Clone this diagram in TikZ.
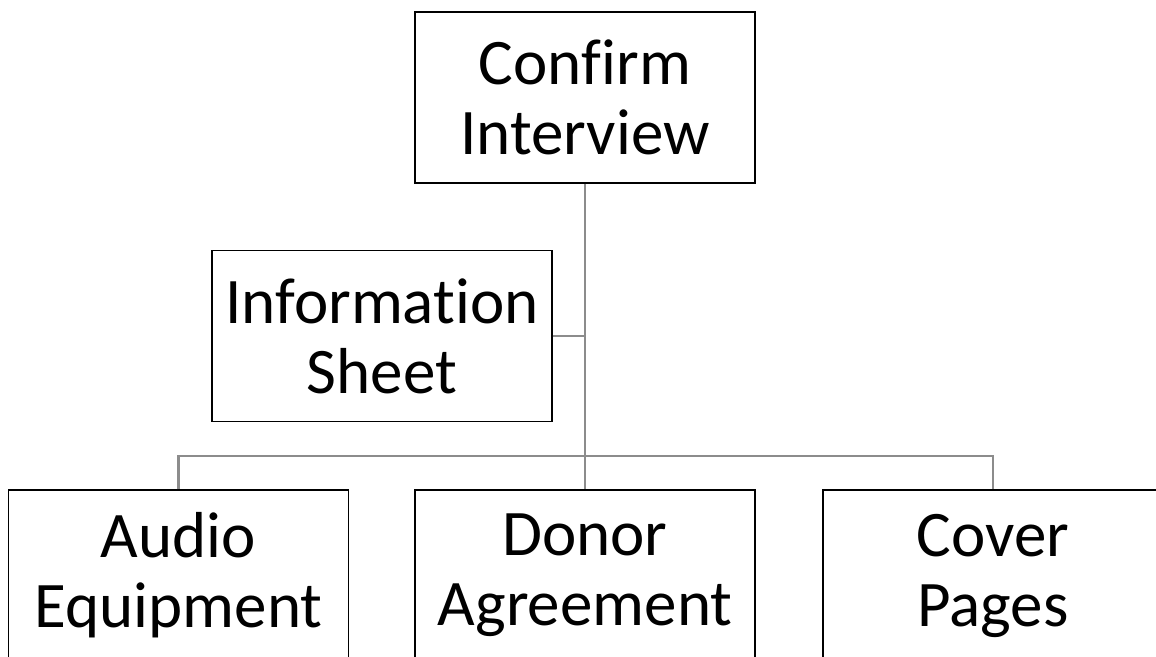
\documentclass[tikz,border=0pt]{standalone}
\usepackage{fontspec}
\setmainfont[Ligatures={NoCommon,NoRequired,NoContextual,NoRare}]{Carlito}
\definecolor{conngray}{RGB}{140,140,140}
\begin{document}
\begin{tikzpicture}[x=1pt,y=-1pt,
  box/.style={draw=black,line width=1.5pt,fill=white,minimum width=340pt,minimum height=171pt,
    inner sep=0pt,align=center,font=\fontsize{65}{70}\selectfont},
  conn/.style={draw=conngray,line width=2.5pt}]
\useasboundingbox (0,0) rectangle (1156,656);
\begin{scope}
\clip (0,0) rectangle (1156,656);
\node[box] (conf) at (585,97.5) {Confirm\\Interview};
\node[box] (info) at (382,336) {Information\\Sheet};
\node[box] (audio) at (178.5,575.5) {Audio\\Equipment};
\node[box] (donor) at (585,575.5) {Donor\\Agreement};
\node[box] (cover) at (993,575.5) {Cover\\Pages};
\coordinate (j) at (585,456);
\draw[conn] (conf.south) -- (j);
\draw[conn] (info.east) -- (info.east -| conf.south);
\draw[conn] (audio.north) -- (audio.north |- j) -- (cover.north |- j) -- (cover.north);
\draw[conn] (j) -- (donor.north);
\end{scope}
\end{tikzpicture}
\end{document}
